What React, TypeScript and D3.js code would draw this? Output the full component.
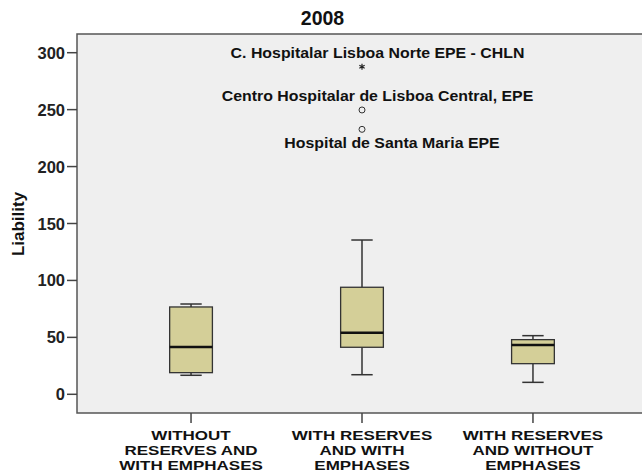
import React from "react";
import * as d3 from "d3";

const title = "2008";
const yLabel = "Liability";
const categories = ["A", "B", "C"];
const categoryLines = [
  ["WITHOUT", "RESERVES AND", "WITH EMPHASES"],
  ["WITH RESERVES", "AND WITH", "EMPHASES"],
  ["WITH RESERVES", "AND WITHOUT", "EMPHASES"],
];
const whiskerLow = [16.7, 17.2, 10.5];
const q1 = [19.0, 41.3, 26.9];
const median = [41.5, 54.1, 43.3];
const q3 = [76.7, 94.0, 48.0];
const whiskerHigh = [79.3, 135.5, 51.5];
const outlierCategory = ["B", "B", "B"];
const outlierValue = [287.7, 249.7, 232.7];
const outlierKind = ["extreme", "outlier", "outlier"];
const outlierLabel = [
  "C. Hospitalar Lisboa Norte EPE - CHLN",
  "Centro Hospitalar de Lisboa Central, EPE",
  "Hospital de Santa Maria EPE",
];
const outlierLabelBelow = [false, false, true];
const yTicks = [0, 50, 100, 150, 200, 250, 300];

const W = 642;
const H = 474;
const plot = { left: 77, top: 34, right: 647, bottom: 413 };
const font = "'Liberation Sans', Arial, sans-serif";

export default function App() {
  const y = d3.scaleLinear().domain([0, 300]).range([394.3, 52.7]);
  const x = d3
    .scaleBand<string>()
    .domain(categories)
    .range([plot.left, plot.right])
    .paddingInner(0)
    .paddingOuter(0.167);
  const bw = x.bandwidth() * 0.25;
  const cap = bw * 0.5;
  const cx = (c: string) => (x(c) as number) + x.bandwidth() / 2;
  const boxStroke = "#333";

  return (
    <svg
      width={W}
      height={H}
      style={{ position: "absolute", left: 0, top: 0, background: "#fff" }}
      fontFamily={font}
    >
      <rect
        x={plot.left}
        y={plot.top}
        width={plot.right - plot.left}
        height={plot.bottom - plot.top}
        fill="#efefef"
        stroke="#555"
        strokeWidth={1.5}
      />
      <text x={322.5} y={25} textAnchor="middle" fontSize={19.5} fontWeight="bold" fill="#111">
        {title}
      </text>
      {yTicks.map((t) => (
        <g key={t}>
          <line x1={plot.left - 10} x2={plot.left} y1={y(t)} y2={y(t)} stroke="#444" strokeWidth={1.5} />
          <text
            x={plot.left - 12}
            y={y(t) + 6}
            textAnchor="end"
            fontSize={16.5}
            fontWeight="bold"
            fill="#222"
          >
            {t}
          </text>
        </g>
      ))}
      <text
        transform={`translate(23.5,224) rotate(-90)`}
        textAnchor="middle"
        fontSize={17}
        fontWeight="bold"
        fill="#111"
      >
        {yLabel}
      </text>
      {categories.map((c, i) => {
        const m = cx(c);
        return (
          <g key={c}>
            <line x1={m} x2={m} y1={plot.bottom} y2={plot.bottom + 10} stroke="#444" strokeWidth={1.5} />
            {categoryLines[i].map((ln, j) => (
              <text
                key={j}
                transform={`translate(${m},${440 + j * 15}) scale(1.31,1)`}
                textAnchor="middle"
                fontSize={13}
                fontWeight="bold"
                fill="#111"
              >
                {ln}
              </text>
            ))}
            <line x1={m} x2={m} y1={y(whiskerHigh[i])} y2={y(q3[i])} stroke={boxStroke} strokeWidth={1.5} />
            <line x1={m} x2={m} y1={y(q1[i])} y2={y(whiskerLow[i])} stroke={boxStroke} strokeWidth={1.5} />
            <line
              x1={m - cap / 2}
              x2={m + cap / 2}
              y1={y(whiskerHigh[i])}
              y2={y(whiskerHigh[i])}
              stroke={boxStroke}
              strokeWidth={1.5}
            />
            <line
              x1={m - cap / 2}
              x2={m + cap / 2}
              y1={y(whiskerLow[i])}
              y2={y(whiskerLow[i])}
              stroke={boxStroke}
              strokeWidth={1.5}
            />
            <rect
              x={m - bw / 2}
              y={y(q3[i])}
              width={bw}
              height={y(q1[i]) - y(q3[i])}
              fill="#d4cf98"
              stroke={boxStroke}
              strokeWidth={1.3}
            />
            <line
              x1={m - bw / 2}
              x2={m + bw / 2}
              y1={y(median[i])}
              y2={y(median[i])}
              stroke="#111"
              strokeWidth={2.5}
            />
          </g>
        );
      })}
      {outlierValue.map((v, i) => {
        const m = cx(outlierCategory[i]);
        const py = y(v);
        const sym =
          outlierKind[i] === "extreme"
            ? d3.symbol(d3.symbolAsterisk, 26)()
            : null;
        return (
          <g key={i}>
            {sym ? (
              <path d={sym as string} transform={`translate(${m},${py})`} stroke="#222" strokeWidth={1.2} fill="none" />
            ) : (
              <circle cx={m} cy={py} r={3} fill="none" stroke="#333" strokeWidth={1} />
            )}
            <text
              transform={`translate(${m + (outlierLabelBelow[i] ? 30 : 15.5)},${
                outlierLabelBelow[i] ? py + 18.4 : py - 9
              }) scale(1.06,1)`}
              textAnchor="middle"
              fontSize={15}
              fontWeight="bold"
              fill="#111"
            >
              {outlierLabel[i]}
            </text>
          </g>
        );
      })}
    </svg>
  );
}
